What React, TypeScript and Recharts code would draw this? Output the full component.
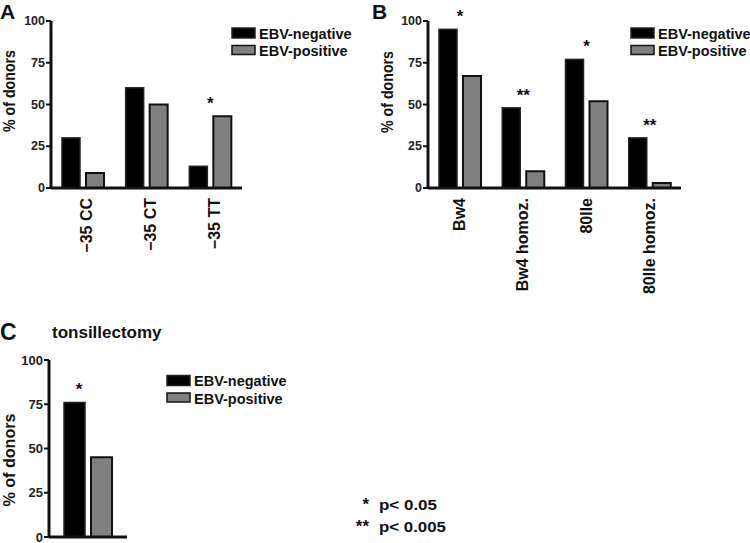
import { BarChart, Bar, XAxis, YAxis } from "recharts";

const FONT = "'Liberation Sans', Arial, Helvetica, sans-serif";
const INK = "#111";
const GREY = "#808080";

// panel A: IL-10 -35 genotypes
const genotypes = ["−35 CC", "−35 CT", "−35 TT"];
const genoNeg = [30, 60, 13];
const genoPos = [9, 50, 43];
const genoStars = ["", "", "*"];

// panel B: HLA-B alleles
const alleles = ["Bw4", "Bw4 homoz.", "80Ile", "80Ile homoz."];
const alleleNeg = [95, 48, 77, 30];
const allelePos = [67, 10, 52, 3];
const alleleStars = ["*", "**", "*", "**"];

// panel C: tonsillectomy
const tonsilCats = ["tonsillectomy"];
const tonsilNeg = [76];
const tonsilPos = [45];
const tonsilStars = ["*"];

const yTicks = [0, 25, 50, 75, 100];
const seriesNames = ["EBV-negative", "EBV-positive"];
const pStars = ["*", "**"];
const pTexts = ["p< 0.05", "p< 0.005"];

const rows = (cats: string[], neg: number[], pos: number[], stars: string[]) =>
  cats.map((c, i) => ({ cat: c, neg: neg[i], pos: pos[i], star: stars[i] }));

const YTick = ({ x, y, payload, fs }: any) => (
  <text x={x} y={y} textAnchor="end" dominantBaseline="central" fontFamily={FONT}
    fontWeight="bold" fontSize={fs} fill="#222">
    {payload.value}
  </text>
);

const XTick = ({ x, y, payload, dx }: any) => (
  <text x={x + dx} y={y} transform={`rotate(-90 ${x + dx} ${y})`} textAnchor="end"
    dominantBaseline="central" fontFamily={FONT} fontWeight="bold" fontSize={16} fill="#111">
    {payload.value}
  </text>
);

// black bar plus the significance mark centred over its category
const NegShape = (props: any) => {
  const { x, y, width, height, payload, gap, starDx } = props;
  const per = height / payload.neg;
  const top = y + height - Math.max(payload.neg, payload.pos) * per;
  return (
    <g>
      <rect x={x} y={y} width={width} height={height} fill="#000" stroke="#222" strokeWidth={1.5} />
      {payload.star && (
        <text x={x + width + gap / 2 + starDx} y={top - 7} textAnchor="middle"
          fontFamily={FONT} fontWeight="bold" fontSize={17} fill="#111">
          {payload.star}
        </text>
      )}
    </g>
  );
};

function Panel({ left, top, width, height, margin, data, axisW, xAxisH, barSize, gap, tickFs, labelDx, starDx, showX }: any) {
  return (
    <div style={{ position: "absolute", left, top }}>
      <BarChart width={width} height={height} data={data} margin={margin} barSize={barSize} barGap={gap}>
        <XAxis dataKey="cat" height={xAxisH} axisLine={{ stroke: INK, strokeWidth: 3 }} tickLine={false}
          tickSize={0} tickMargin={10} interval={0}
          tick={showX ? <XTick dx={labelDx} /> : false} />
        <YAxis width={axisW} domain={[0, 100]} ticks={yTicks} interval={0}
          axisLine={{ stroke: INK, strokeWidth: 3 }} tickLine={{ stroke: INK, strokeWidth: 2 }}
          tickSize={5} tickMargin={1} tick={<YTick fs={tickFs} />} />
        <Bar dataKey="neg" isAnimationActive={false} shape={<NegShape gap={gap} starDx={starDx} />} />
        <Bar dataKey="pos" fill={GREY} stroke={INK} strokeWidth={2} isAnimationActive={false} />
      </BarChart>
    </div>
  );
}

function LegendBox({ x, y }: { x: number; y: number }) {
  return (
    <g fontFamily={FONT} fontWeight="bold" fontSize={14.5} fill="#111">
      <rect x={x} y={y} width={23} height={10} fill="#000" stroke="#222" strokeWidth={1.5} />
      <rect x={x} y={y + 17.5} width={23} height={9} fill={GREY} stroke={INK} strokeWidth={1.5} />
      <text x={x + 27} y={y + 10.5}>{seriesNames[0]}</text>
      <text x={x + 27} y={y + 28}>{seriesNames[1]}</text>
    </g>
  );
}

const YLabel = ({ x, y, fs, len }: any) => (
  <text x={x} y={y} transform={`rotate(-90 ${x} ${y})`} textAnchor="middle" dominantBaseline="central"
    fontFamily={FONT} fontWeight="bold" fontSize={fs} textLength={len} lengthAdjust="spacingAndGlyphs" fill="#111">
    % of donors
  </text>
);

export default function App() {
  return (
    <div style={{ position: "absolute", left: 0, top: 0, width: 750, height: 543, background: "#fff", overflow: "hidden" }}>
      <Panel left={0} top={0} width={370} height={300} margin={{ top: 21, right: 128, bottom: 0, left: 0 }}
        data={rows(genotypes, genoNeg, genoPos, genoStars)} axisW={51} xAxisH={112}
        barSize={18} gap={6} tickFs={12.5} labelDx={4} starDx={0} showX />
      <Panel left={370} top={0} width={380} height={300} margin={{ top: 21, right: 69, bottom: 0, left: 0 }}
        data={rows(alleles, alleleNeg, allelePos, alleleStars)} axisW={58} xAxisH={112}
        barSize={18} gap={6} tickFs={12.5} labelDx={0} starDx={0} showX />
      <Panel left={0} top={340} width={200} height={203} margin={{ top: 20, right: 73, bottom: 0, left: 0 }}
        data={rows(tonsilCats, tonsilNeg, tonsilPos, tonsilStars)} axisW={49} xAxisH={6}
        barSize={21} gap={6} tickFs={13} labelDx={0} starDx={-9} showX={false} />
      <svg width={750} height={543} style={{ position: "absolute", left: 0, top: 0, pointerEvents: "none" }}>
        <g fontFamily={FONT} fontWeight="bold" fill="#111">
          <text x={0} y={19} fontSize={21}>A</text>
          <text x={372} y={19} fontSize={21}>B</text>
          <text x={0} y={340} fontSize={23}>C</text>
          <text x={52} y={338} fontSize={17}>tonsillectomy</text>
        </g>
        <YLabel x={9} y={91} fs={16} len={82} />
        <YLabel x={387} y={92} fs={16} len={82} />
        <YLabel x={9} y={460} fs={16} len={93} />
        <LegendBox x={232} y={28} />
        <LegendBox x={631} y={28} />
        <LegendBox x={167} y={375.5} />
        <g fontFamily={FONT} fontWeight="bold" fontSize={17} fill="#111">
          {pTexts.map((t, i) => (
            <g key={t}>
              <text x={369} y={509.5 + i * 22.5} textAnchor="end">{pStars[i]}</text>
              <text x={379} y={509.5 + i * 22.5} fontSize={15} textLength={i === 0 ? 58 : 67} lengthAdjust="spacingAndGlyphs">{t}</text>
            </g>
          ))}
        </g>
      </svg>
    </div>
  );
}
